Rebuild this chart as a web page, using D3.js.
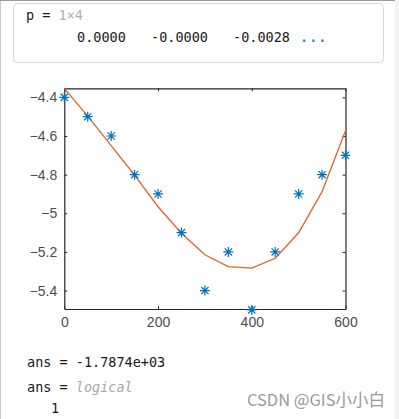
<!DOCTYPE html>
<html>
<head>
<meta charset="utf-8">
<script src="https://cdn.jsdelivr.net/npm/d3@7"></script>
<style>
	body { margin: 0; background: #fff; }
	svg { display: block; }
	.axis path, .axis line { stroke: #262626; }
	.axis text { fill: #4d4d4d; font-family: "Liberation Sans", Arial, sans-serif; font-size: 14px; }
	.mono { font-family: "DejaVu Sans Mono", "Liberation Mono", monospace; font-size: 13.5px; fill: #1a1a1a; }
</style>
</head>
<body>
<script>
"use strict";

// données
var xMesures = [0, 50, 100, 150, 200, 250, 300, 350, 400, 450, 500, 550, 600];
var yMesures = [-4.4, -4.5, -4.6, -4.8, -4.9, -5.1, -5.4, -5.2, -5.5, -5.2, -4.9, -4.8, -4.7];
var yAjuste = [-4.353, -4.497, -4.650, -4.802, -4.966, -5.103, -5.215, -5.276, -5.284, -5.233, -5.101, -4.888, -4.573];
var xTicks = [0, 200, 400, 600];
var yTicks = [-5.4, -5.2, -5, -4.8, -4.6, -4.4];
var coefficients = ["0.0000", "-0.0000", "-0.0028"];

var largeur = 399, hauteur = 419;
var cadre = { left: 64.3, right: 345.5, top: 88.3, bottom: 309 };

var svg = d3.select("body").append("svg")
	.attr("width", largeur)
	.attr("height", hauteur);

// fond de la fenêtre
svg.append("rect")
	.attr("x", 395).attr("y", 0)
	.attr("width", 4).attr("height", hauteur)
	.attr("fill", "#f3f3f3");
svg.append("line")
	.attr("x1", 0.5).attr("x2", 0.5)
	.attr("y1", 0).attr("y2", hauteur)
	.attr("stroke", "#c8c8c8");
svg.append("line")
	.attr("x1", 0).attr("x2", 395)
	.attr("y1", 0.5).attr("y2", 0.5)
	.attr("stroke", "#9a9a9a");

// encadré de sortie "p"
svg.append("rect")
	.attr("x", 13.5).attr("y", 3.5)
	.attr("width", 370).attr("height", 59)
	.attr("rx", 4)
	.attr("fill", "#fff")
	.attr("stroke", "#d9d9d9");

var tP = svg.append("text").attr("class", "mono").attr("x", 26).attr("y", 20);
tP.append("tspan").text("p = ");
tP.append("tspan").style("fill", "#b0b0b0").text("1×4");

svg.append("g").selectAll("text")
	.data(coefficients)
	.enter()
		.append("text")
		.attr("class", "mono")
		.attr("x", (d, i) => [77, 151, 233][i])
		.attr("y", 42)
		.text(d => d);
svg.append("text")
	.attr("class", "mono")
	.attr("x", 300).attr("y", 42)
	.style("fill", "#4a7bd0")
	.style("font-weight", "bold")
	.attr("letter-spacing", 1)
	.text("...");

// échelles
var x = d3.scaleLinear().domain([0, 600]).range([cadre.left, cadre.right]);
var y = d3.scaleLinear().domain([-5.4954, -4.353]).range([cadre.bottom, cadre.top]);

var gAxes = svg.append("g").attr("class", "axis");

gAxes.append("g")
	.attr("transform", "translate(0," + cadre.bottom + ")")
	.call(d3.axisBottom(x).tickValues(xTicks).tickSizeInner(-3).tickSizeOuter(0).tickPadding(8));
gAxes.append("g")
	.attr("transform", "translate(0," + cadre.top + ")")
	.call(d3.axisTop(x).tickValues(xTicks).tickSizeInner(-3).tickSizeOuter(0).tickFormat(""));
gAxes.append("g")
	.attr("transform", "translate(" + cadre.left + ",0)")
	.call(d3.axisLeft(y).tickValues(yTicks).tickSizeInner(-3).tickSizeOuter(0).tickPadding(7).tickFormat(d3.format("")));
gAxes.append("g")
	.attr("transform", "translate(" + cadre.right + ",0)")
	.call(d3.axisRight(y).tickValues(yTicks).tickSizeInner(-3).tickSizeOuter(0).tickFormat(""));

gAxes.selectAll(".domain").attr("stroke-width", 1.2);

// courbe ajustée
var ligne = d3.line()
	.x((d, i) => x(xMesures[i]))
	.y(d => y(d));

svg.append("path")
	.datum(yAjuste)
	.attr("d", ligne)
	.attr("fill", "none")
	.attr("stroke", "#E0622A")
	.attr("stroke-width", 1.3);

// marqueurs "*"
var r = 5, rd = r * 0.72;
var etoile = "M" + (-r) + ",0H" + r + "M0," + (-r) + "V" + r +
	"M" + (-rd) + "," + (-rd) + "L" + rd + "," + rd +
	"M" + (-rd) + "," + rd + "L" + rd + "," + (-rd);

svg.append("g").selectAll("path")
	.data(yMesures)
	.enter()
		.append("path")
		.attr("transform", (d, i) => "translate(" + x(xMesures[i]) + "," + y(d) + ")")
		.attr("d", etoile)
		.attr("fill", "none")
		.attr("stroke", "#0072BD")
		.attr("stroke-width", 1.2);

// sorties suivantes
svg.append("text")
	.attr("class", "mono")
	.attr("x", 27).attr("y", 367)
	.text("ans = -1.7874e+03");

var tAns = svg.append("text").attr("class", "mono").attr("x", 27).attr("y", 392);
tAns.append("tspan").text("ans = ");
tAns.append("tspan")
	.attr("font-style", "italic")
	.style("fill", "#a8a8a8")
	.text("logical");

svg.append("text")
	.attr("class", "mono")
	.attr("x", 51).attr("y", 413)
	.text("1");

// filigrane
svg.append("text")
	.attr("x", 385).attr("y", 406)
	.attr("text-anchor", "end")
	.attr("font-family", "'Noto Sans CJK SC', 'Liberation Sans', sans-serif")
	.attr("font-size", 16.5)
	.attr("fill", "#9a9a9a")
	.text("CSDN @GIS小小白");
</script>
</body>
</html>
